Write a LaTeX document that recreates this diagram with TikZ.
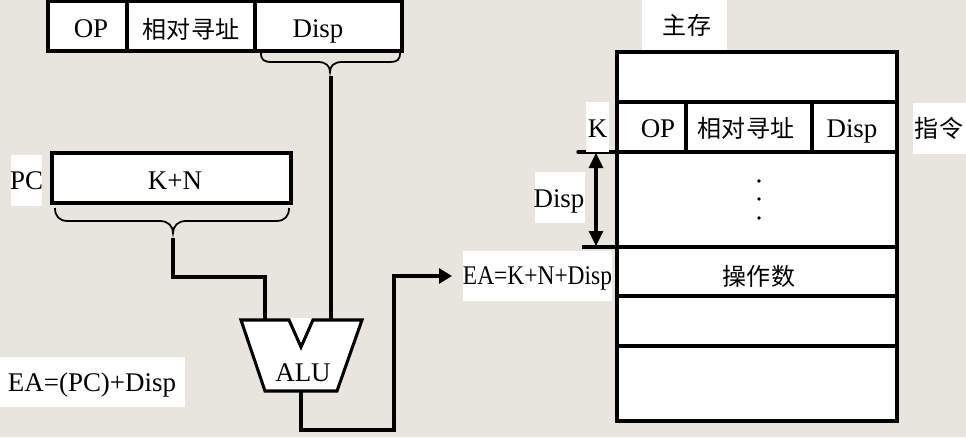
\documentclass[tikz,border=0pt]{standalone}
\usepackage{fontspec}
\setmainfont{Liberation Serif}
\newfontfamily\cjk{Noto Sans CJK SC}
\usetikzlibrary{arrows.meta}
\definecolor{bgc}{RGB}{232,228,222}
\tikzset{
  lat/.style={font=\fontsize{23}{25}\selectfont, inner sep=0pt, anchor=base},
  zh/.style={font=\cjk\fontsize{20.5}{22}\selectfont, inner sep=0pt},
  box/.style={draw, line width=3pt, fill=white},
  sep/.style={line width=2.8pt},
  wire/.style={line width=2.6pt},
  brc/.style={line width=1.5pt},
  tip/.style={-{Triangle[length=0.39cm,width=0.45cm]}},
  dtip/.style={{Triangle[length=0.45cm,width=0.42cm]}-{Triangle[length=0.45cm,width=0.42cm]}},
  lab/.style={fill=white}
}
\begin{document}
\begin{tikzpicture}[x=0.03cm,y=-0.03cm]
\fill[bgc] (0,0) rectangle (966,437);
\useasboundingbox (0,0) rectangle (966,437);

% ---- instruction register (top)
\draw[box] (48,1.5) rectangle (402,51);
\draw[sep] (127,1.5) -- (127,51);
\draw[sep] (255,1.5) -- (255,51);
\node[lat] (op1) at (91,37) {OP};
\node[zh]  (xd1) at (191,29) {相对寻址};
\node[lat] (dp1) at (318,37) {Disp};
% brace under Disp
\draw[brc] (261,53) .. controls (261,60) and (264,62) .. (272,62) -- (318,62)
  .. controls (326,62) and (330,66) .. (330,72)
  .. controls (330,66) and (334,62) .. (342,62) -- (390,62)
  .. controls (397,62) and (400,60) .. (400,53);
\coordinate (b1) at (331,76);

% ---- PC
\draw[box] (52,153) rectangle (291,203);
\node[lat] (kn) at (175,189) {K+N};
\fill[lab] (11,155) rectangle (42,206);
\node[lat] (pc) at (26.5,189) {PC};
\draw[brc] (55,208) .. controls (55,216) and (59,221) .. (68,221) -- (160,221)
  .. controls (168,221) and (173,226) .. (173,233)
  .. controls (173,226) and (178,221) .. (186,221) -- (276,221)
  .. controls (285,221) and (289,216) .. (289,208);
\coordinate (b2) at (173,238);

% ---- ALU
\coordinate (aluA) at (265,320);
\coordinate (aluB) at (331,320);
\coordinate (aluO) at (301,391);
\fill[white] (241,320) -- (362,320) -- (337,391) -- (265,391) -- cycle;
\draw[line width=2.6pt, line join=miter] (289,320) -- (241,320) -- (265,391) -- (337,391) -- (362,320) -- (313,320) -- (301,347) -- cycle;
\fill[white] (291,318) -- (311,318) -- (301,342) -- cycle;
\node[lat] (alu) at (303,381) {ALU};

\draw[wire] (b2) |- (265,277) -- (aluA);
\draw[wire] (b1) -- (aluB);
\coordinate (ea) at (452,276);
\draw[wire, tip] (aluO) -- (301,430) -| (394,276) -- (ea);

% ---- main memory
\draw[box] (617,52) rectangle (897,421);
\draw[sep] (617,102) -- (897,102);
\draw[sep, line cap=round] (578,152) -- (895,152);
\draw[sep] (582,247) -- (895,247);
\draw[sep] (619,296) -- (895,296);
\draw[sep] (619,346) -- (895,346);
\draw[sep] (686,102) -- (686,152);
\draw[sep] (812,102) -- (812,152);
\node[lat] (op2) at (658,137) {OP};
\node[zh]  (xd2) at (746,128) {相对寻址};
\node[lat] (dp2) at (852,137) {Disp};
\fill (759,181) circle (1.8);
\fill (759,199) circle (1.8);
\fill (759,218) circle (1.8);
\node[zh] (czs) at (759,276) {操作数};

\coordinate (k1) at (596,153);
\coordinate (k2) at (596,246);
\draw[wire, dtip] (k1) -- (k2);

% white labels
\fill[lab] (642,0) rectangle (727,50);
\node[zh] (zc) at (687,25) {主存};
\fill[lab] (586,102) rectangle (609,152);
\node[lat] (k) at (597.5,137) {K};
\fill[lab] (913,103) rectangle (966,154);
\node[zh] (zl) at (939,128) {指令};
\fill[lab] (535,172) rectangle (585,223);
\node[lat] (dsp) at (559,207) {Disp};
\fill[lab] (463,251) rectangle (612,301);
\node[lat] (eak) at (537.5,284) {\scalebox{0.87}[1]{EA=K+N+Disp}};
\fill[lab] (0,357) rectangle (185,407);
\node[lat] (eapc) at (92,391) {EA=(PC)+Disp};
\end{tikzpicture}
\end{document}
